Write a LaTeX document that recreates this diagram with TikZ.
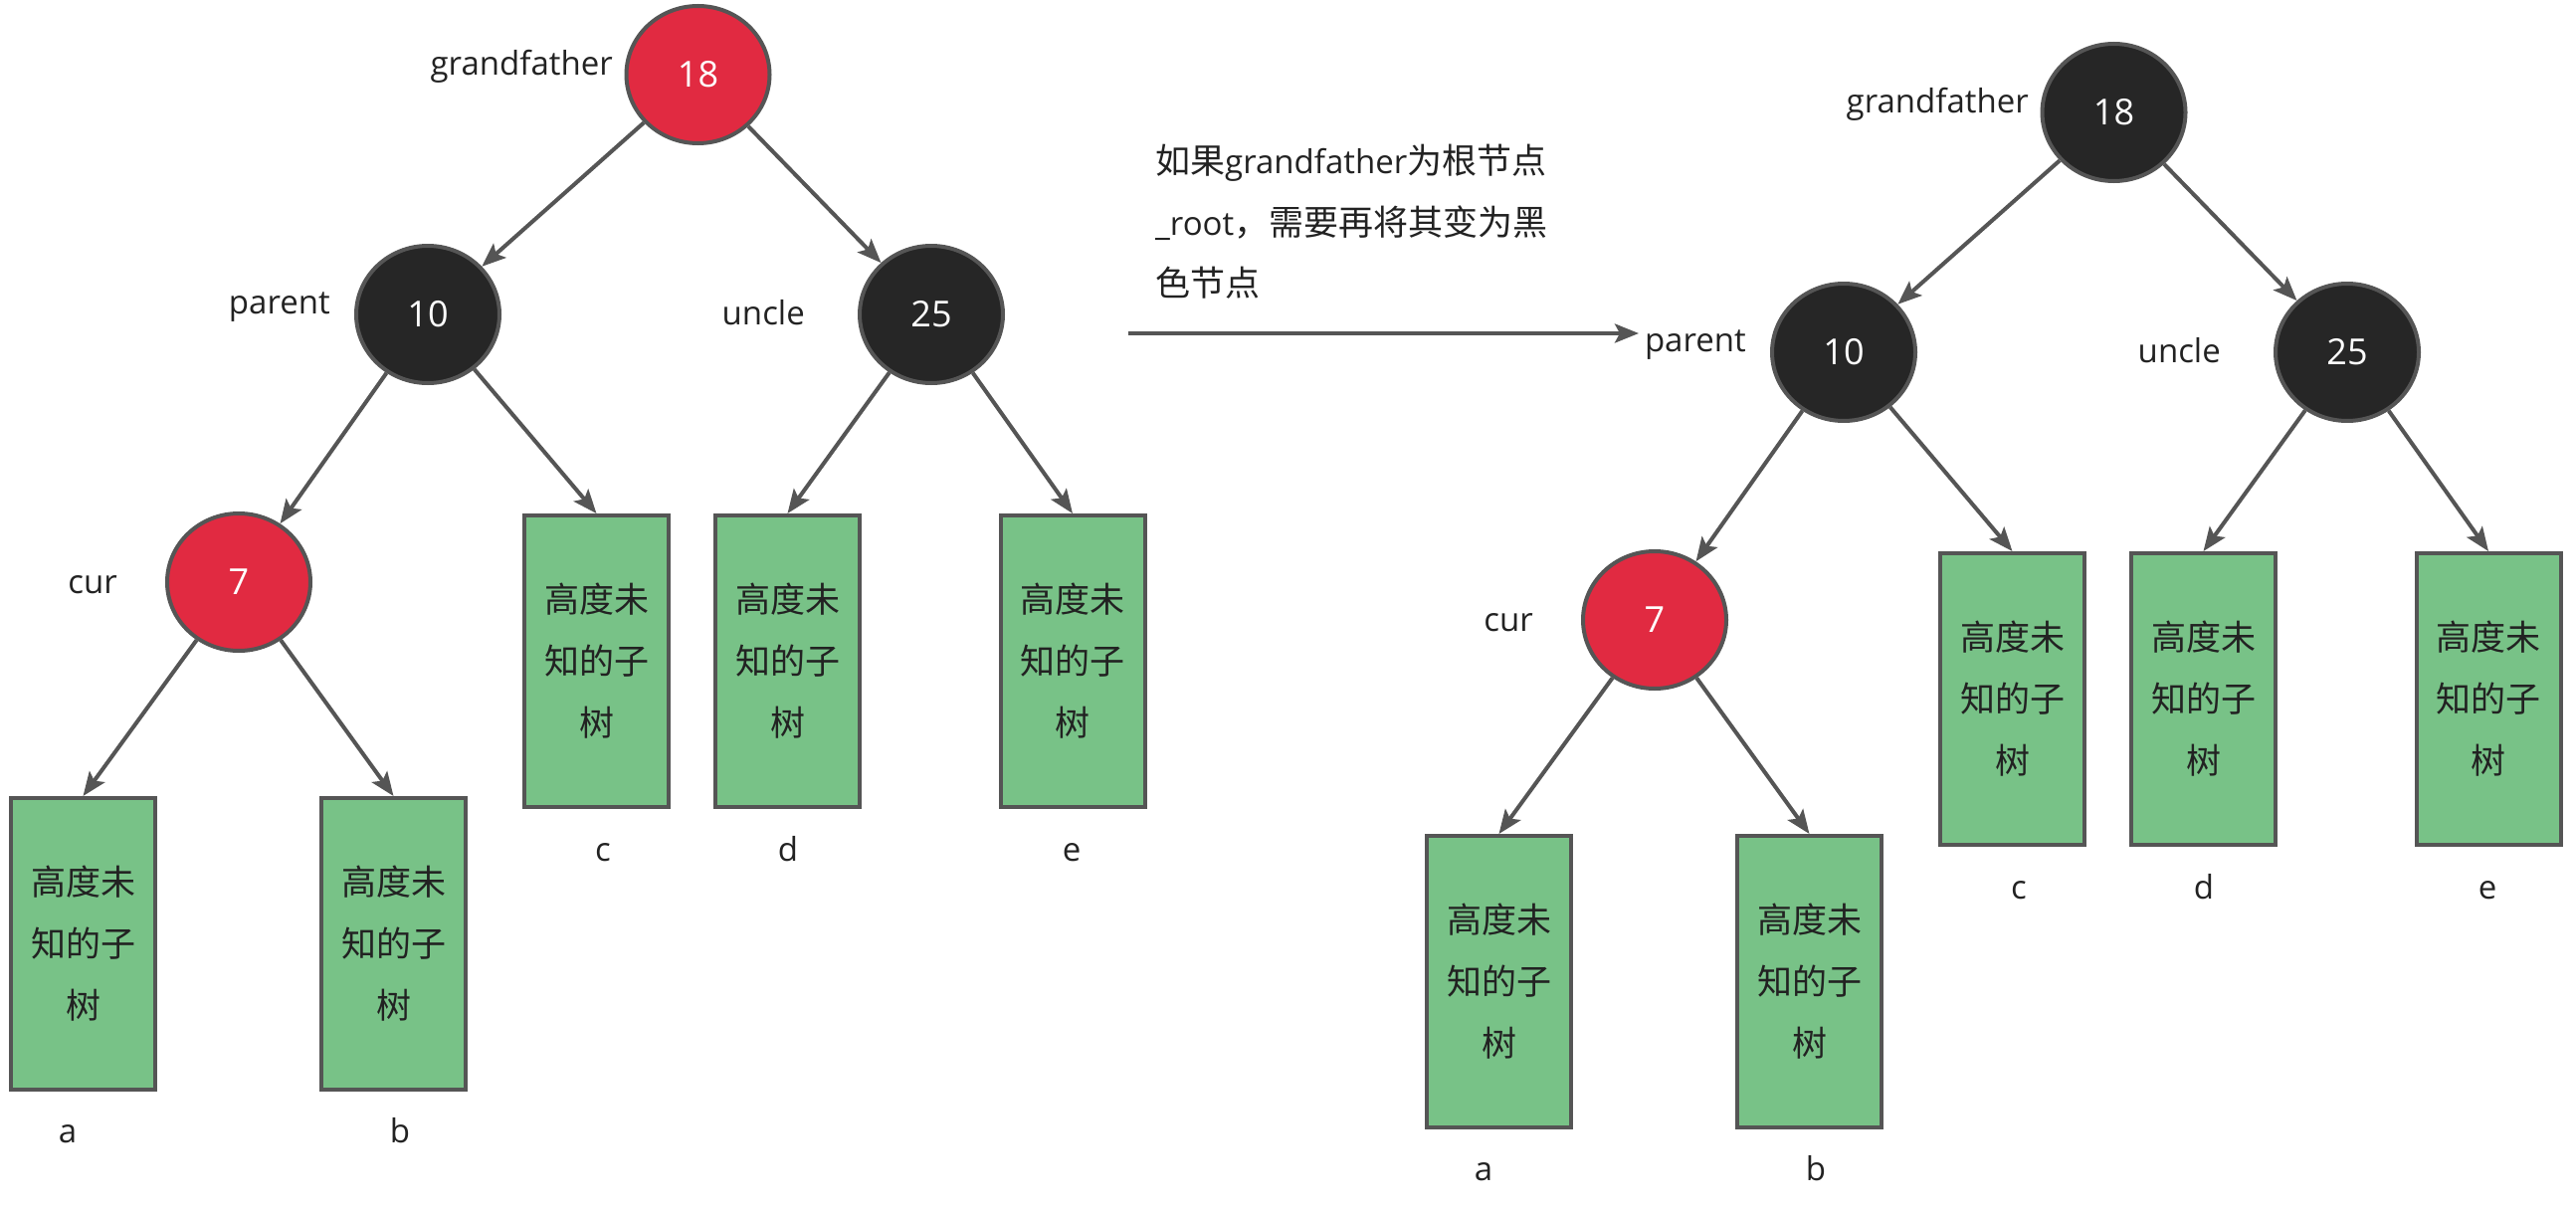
\documentclass[tikz,border=0pt]{standalone}
\usepackage{fontspec}
\setmainfont{Open Sans}
\newfontfamily\cjk{Noto Sans CJK SC}
\usetikzlibrary{arrows.meta,shapes.geometric}
\definecolor{rbred}{HTML}{E12A41}
\definecolor{rbblack}{HTML}{262626}
\definecolor{edgegray}{HTML}{555555}
\definecolor{subgreen}{HTML}{78C287}
\definecolor{txt}{HTML}{222222}
\begin{document}
\begin{tikzpicture}[x=1pt,y=-1pt,
  rbbase/.style={ellipse, draw=edgegray, line width=4pt, minimum width=144pt, minimum height=138pt, inner sep=0pt, text=white, font=\fontsize{36}{40}\selectfont},
  rbr/.style={rbbase, fill=rbred},
  rbk/.style={rbbase, fill=rbblack},
  sub/.style={rectangle, draw=edgegray, line width=4pt, fill=subgreen, minimum width=145pt, minimum height=293pt, inner sep=0pt, align=center, text=txt, font=\cjk\fontsize{35}{62}\selectfont},
  lab/.style={inner sep=0pt, text=txt, font=\fontsize{33}{40}\selectfont},
  note/.style={inner sep=0pt, text=txt, anchor=base west, font=\fontsize{33}{40}\selectfont},
  tedge/.style={draw=edgegray, line width=4pt, -{Stealth[length=24pt,width=19pt,inset=5pt]}}
]
\useasboundingbox (0,0) rectangle (2589,1220);

% ---------- left tree ----------
\node[rbr] (g) at (701.5,75) {18};
\node[rbk] (p) at (430,316) {10};
\node[rbk] (u) at (936,316) {25};
\node[rbr] (c) at (240,585) {7};
\node[sub] (sa) at (83.5,948.5) {高度未\\知的子\\树};
\node[sub] (sb) at (395.5,948.5) {高度未\\知的子\\树};
\node[sub] (sc) at (599.5,664.5) {高度未\\知的子\\树};
\node[sub] (sd) at (791.5,664.5) {高度未\\知的子\\树};
\node[sub] (se) at (1078,664.5) {高度未\\知的子\\树};

\node[lab, anchor=mid east] (lg) at (616,73) {grandfather};
\node[lab, anchor=mid east] (lp) at (332,313) {parent};
\node[lab, anchor=mid east] (lu) at (809,324) {uncle};
\node[lab, anchor=mid east] (lc) at (118,594) {cur};
\node[lab, anchor=mid] (la) at (68,1146) {a};
\node[lab, anchor=mid] (lb) at (402,1146) {b};
\node[lab, anchor=mid] (lcc) at (606,863) {c};
\node[lab, anchor=mid] (ld) at (792,863) {d};
\node[lab, anchor=mid] (le) at (1077,863) {e};

\draw[tedge] (g) -- (p);
\draw[tedge] (g) -- (u);
\draw[tedge] (p) -- (c);
\draw[tedge] (p) -- (sc.north);
\draw[tedge] (u) -- (sd.north);
\draw[tedge] (u) -- (se.north);
\draw[tedge] (c) -- (sa.north);
\draw[tedge] (c) -- (sb.north);

% ---------- note and arrow ----------
\node[note] (t1) at (1161,175) {{\cjk\fontsize{35}{40}\selectfont 如果}grandfather{\cjk\fontsize{35}{40}\selectfont 为根节点}};
\node[note] (t2) at (1161,236) {\_root{\cjk\fontsize{35}{40}\selectfont ，需要再将其变为黑}};
\node[note] (t3) at (1161,297) {{\cjk\fontsize{35}{40}\selectfont 色节点}};
\coordinate (arrS) at (1134,335);
\coordinate (arrE) at (1647,335);
\draw[tedge] (arrS) -- (arrE);

% ---------- right tree ----------
\begin{scope}[shift={(1423,38)}]
\node[rbk] (gR) at (701.5,75) {18};
\node[rbk] (pR) at (430,316) {10};
\node[rbk] (uR) at (936,316) {25};
\node[rbr] (cR) at (240,585) {7};
\node[sub] (saR) at (83.5,948.5) {高度未\\知的子\\树};
\node[sub] (sbR) at (395.5,948.5) {高度未\\知的子\\树};
\node[sub] (scR) at (599.5,664.5) {高度未\\知的子\\树};
\node[sub] (sdR) at (791.5,664.5) {高度未\\知的子\\树};
\node[sub] (seR) at (1078,664.5) {高度未\\知的子\\树};

\node[lab, anchor=mid east] (lgR) at (616,73) {grandfather};
\node[lab, anchor=mid east] (lpR) at (332,313) {parent};
\node[lab, anchor=mid east] (luR) at (809,324) {uncle};
\node[lab, anchor=mid east] (lcR) at (118,594) {cur};
\node[lab, anchor=mid] (laR) at (68,1146) {a};
\node[lab, anchor=mid] (lbR) at (402,1146) {b};
\node[lab, anchor=mid] (lccR) at (606,863) {c};
\node[lab, anchor=mid] (ldR) at (792,863) {d};
\node[lab, anchor=mid] (leR) at (1077,863) {e};
\end{scope}

\draw[tedge] (gR) -- (pR);
\draw[tedge] (gR) -- (uR);
\draw[tedge] (pR) -- (cR);
\draw[tedge] (pR) -- (scR.north);
\draw[tedge] (uR) -- (sdR.north);
\draw[tedge] (uR) -- (seR.north);
\draw[tedge] (cR) -- (saR.north);
\draw[tedge] (cR) -- (sbR.north);
\end{tikzpicture}
\end{document}
